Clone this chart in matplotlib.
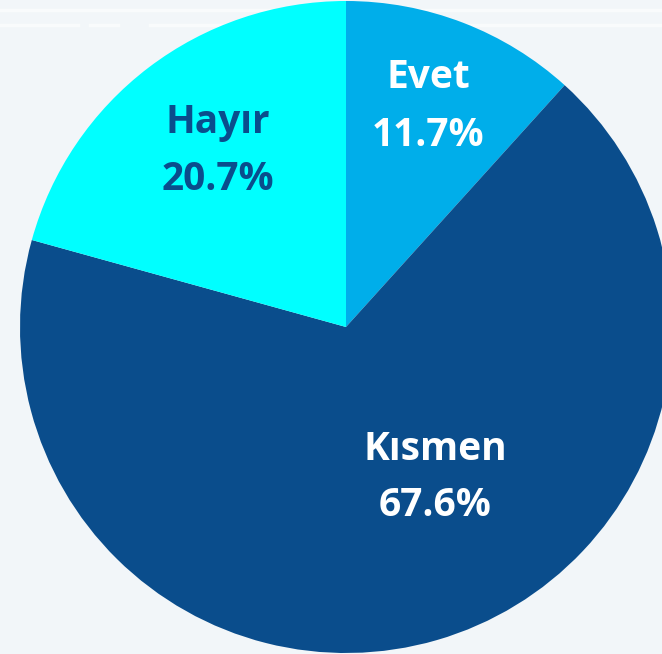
import matplotlib.pyplot as plt

labels = ['Evet', 'Kısmen', 'Hayır']
values = [11.7, 67.6, 20.7]
colors = ['#00AEEA', '#0A4D8C', '#00FFFF']
text_colors = ['white', 'white', '#0A4D8C']

W, H = 662, 654
fig = plt.figure(figsize=(W / 100, H / 100), dpi=100, facecolor='#F2F6F9')
ax = fig.add_axes([0, 0, 1, 1])
ax.set_facecolor('#F2F6F9')

# faint background decoration lines
for y, x0, x1 in [(644, 0, 662), (629, 0, 78), (629, 90, 118), (629, 150, 662)]:
    ax.plot([x0, x1], [y, y], color='white', lw=2.5, alpha=0.6, zorder=0)

cx, cy, r = 346, 327, 326
ax.pie(values, colors=colors, startangle=90, counterclock=False,
       center=(cx, cy), radius=r, frame=True,
       wedgeprops=dict(linewidth=0))
ax.set_xlim(0, W)
ax.set_ylim(0, H)
ax.axis('off')

label_pos = [(428, 78), (435, 449), (218, 122)]
for lab, v, c, (x, y) in zip(labels, values, text_colors, label_pos):
    ax.text(x, H - y, lab, ha='center', va='center', color=c,
            fontsize=28, fontweight='bold', family=['Open Sans', 'DejaVu Sans'])
    ax.text(x, H - y - 57, f'{v}%', ha='center', va='center', color=c,
            fontsize=28, fontweight='bold', family=['Open Sans', 'DejaVu Sans'])

fig.savefig('out.png', dpi=100, facecolor=fig.get_facecolor())
